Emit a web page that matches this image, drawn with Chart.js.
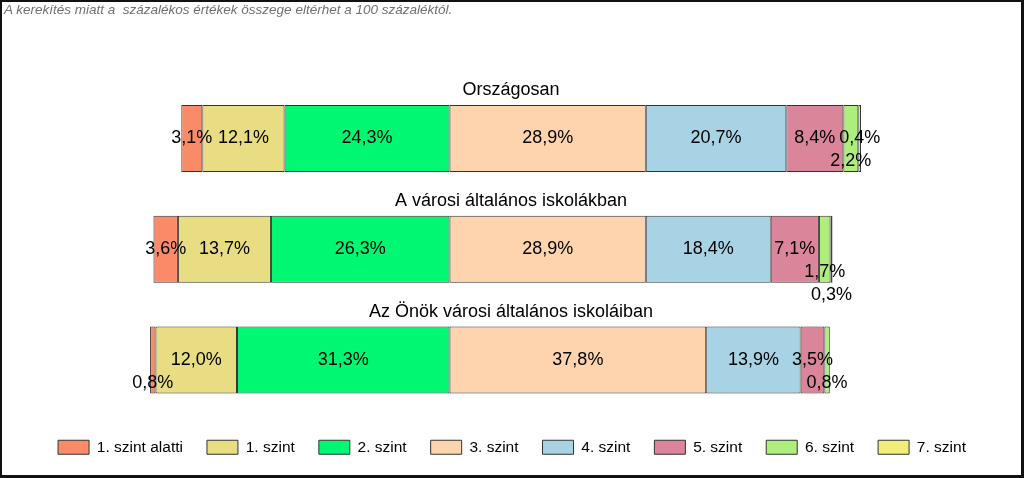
<!DOCTYPE html>
<html lang="hu">
<head>
<meta charset="utf-8">
<title>Képességszintek</title>
<script src="https://cdn.jsdelivr.net/npm/chart.js@4/dist/chart.umd.min.js"></script>
<style>
    html, body { margin: 0; padding: 0; background: #fff; }
    #wrap { position: relative; width: 1024px; height: 478px; overflow: hidden; }
    #chart { position: absolute; left: 0; top: 0; }
    #note {
        position: absolute; left: 4px; top: 2px;
        font: italic 13.5px "Liberation Sans", Arial, sans-serif; color: #707070;
        white-space: pre;
    }
    #frame {
        position: absolute; left: 0; top: 0; right: 0; bottom: 0;
        border-style: solid; border-color: #111; border-width: 2px 3px 3px 2px;
        pointer-events: none;
    }
</style>
</head>
<body>
<div id="wrap">
    <canvas id="chart" width="1024" height="478"></canvas>
    <div id="note">A kerekítés miatt a  százalékos értékek összege eltérhet a 100 százaléktól.</div>
    <div id="frame"></div>
</div>
<script>
// ──────────────────────────────────────────────
// Adatok (százalék)
// ──────────────────────────────────────────────
const categories = ['Országosan', 'A városi általános iskolákban', 'Az Önök városi általános iskoláiban'];
const levels     = ['1. szint alatti', '1. szint', '2. szint', '3. szint', '4. szint', '5. szint', '6. szint', '7. szint'];

const belowLevel1 = [3.1, 3.6, 0.8];
const level1      = [12.1, 13.7, 12.0];
const level2      = [24.3, 26.3, 31.3];
const level3      = [28.9, 28.9, 37.8];
const level4      = [20.7, 18.4, 13.9];
const level5      = [8.4, 7.1, 3.5];
const level6      = [2.2, 1.7, 0.8];
const level7      = [0.4, 0.3, 0.0];

const series  = [belowLevel1, level1, level2, level3, level4, level5, level6, level7];
const colors  = ['#FA8B68', '#E9DD84', '#00F771', '#FDD4AE', '#A8D3E4', '#DA8599', '#AEEE7C', '#F2EC7B'];
const SPLIT   = 3;   // az első három szint balra kerül a nullától

// ──────────────────────────────────────────────
// Lebegő sávok: [kezdet, vég] a nulla körül
// ──────────────────────────────────────────────
function buildRanges(levelIdx) {
    return categories.map((_, row) => {
        let start = 0;
        if (levelIdx < SPLIT) {
            for (let k = levelIdx + 1; k < SPLIT; k++) start -= series[k][row];
            return [start - series[levelIdx][row], start];
        }
        for (let k = SPLIT; k < levelIdx; k++) start += series[k][row];
        return [start, start + series[levelIdx][row]];
    });
}

const fmt = v => v.toFixed(1).replace('.', ',') + '%';

// ──────────────────────────────────────────────
// Feliratok a sávokon (átfedésnél lejjebb kerülnek)
// ──────────────────────────────────────────────
const valueLabels = {
    id: 'valueLabels',
    afterDatasetsDraw(chart) {
        const ctx = chart.ctx;
        ctx.save();
        ctx.font = '18px "Liberation Sans", Arial, sans-serif';
        ctx.fillStyle = '#000';
        ctx.textAlign = 'center';
        ctx.textBaseline = 'middle';
        const step = 23, gap = 1;

        categories.forEach((_, row) => {
            const items = [];
            series.forEach((vals, i) => {
                const v = vals[row];
                if (!v) return;
                const el = chart.getDatasetMeta(i).data[row];
                const text = fmt(v);
                const w = ctx.measureText(text).width;
                const cx = (el.x + el.base) / 2;
                items.push({ v, i, text, cx, y: el.y, left: cx - w / 2, right: cx + w / 2 });
            });
            items.sort((a, b) => b.v - a.v || a.i - b.i);
            const placed = [];
            items.forEach(it => {
                let line = 0;
                while (placed.some(p => p.line === line && it.left - gap < p.right && p.left - gap < it.right)) line++;
                it.line = line;
                placed.push(it);
                ctx.fillText(it.text, it.cx, it.y + line * step);
            });
        });
        ctx.restore();
    }
};

// ──────────────────────────────────────────────
// Sorcímek a sávok fölött
// ──────────────────────────────────────────────
const rowTitles = {
    id: 'rowTitles',
    afterDatasetsDraw(chart) {
        const ctx = chart.ctx;
        const y = chart.scales.y;
        ctx.save();
        ctx.font = '18px "Liberation Sans", Arial, sans-serif';
        ctx.fillStyle = '#000';
        ctx.textAlign = 'center';
        ctx.textBaseline = 'middle';
        categories.forEach((name, i) => ctx.fillText(name, chart.width / 2 - 1, y.getPixelForValue(i) - 48));
        ctx.restore();
    }
};

// ──────────────────────────────────────────────
// Diagram
// ──────────────────────────────────────────────
Chart.defaults.font.family = '"Liberation Sans", Arial, sans-serif';
Chart.defaults.color = '#000';

new Chart(document.getElementById('chart'), {
    type: 'bar',
    data: {
        labels: categories,
        datasets: levels.map((name, i) => ({
            label: name,
            data: buildRanges(i),
            backgroundColor: colors[i],
            borderColor: '#333333',
            borderWidth: 1,
            borderSkipped: false,
            grouped: false,
            barPercentage: 0.605,
            categoryPercentage: 1
        }))
    },
    options: {
        indexAxis: 'y',
        responsive: false,
        animation: false,
        layout: { padding: { top: 83, bottom: 13, left: 0, right: 0 } },
        plugins: {
            legend: {
                display: true,
                position: 'bottom',
                labels: { boxWidth: 31, boxHeight: 14, padding: 24, font: { size: 15.5 }, color: '#000' }
            },
            tooltip: { enabled: false }
        },
        scales: {
            x: { min: -66.2, max: 84.6, display: false },
            y: { display: false }
        }
    },
    plugins: [valueLabels, rowTitles]
});
</script>
</body>
</html>
